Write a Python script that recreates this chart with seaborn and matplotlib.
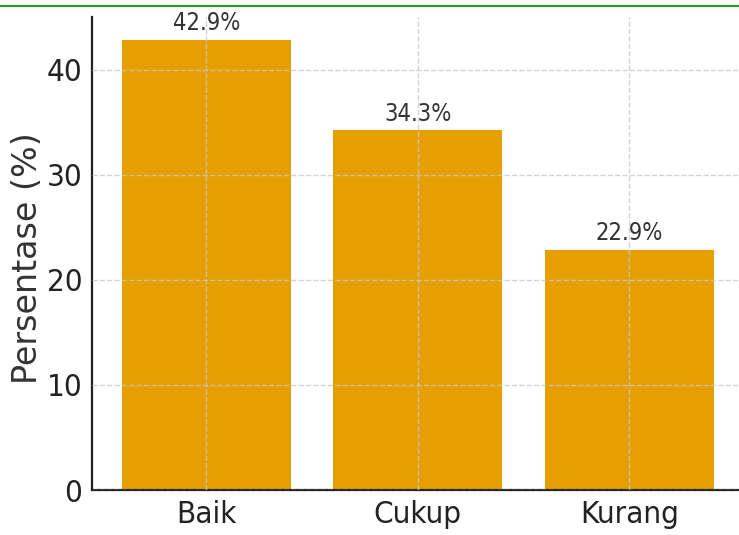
import matplotlib
matplotlib.use("Agg")
import matplotlib.pyplot as plt
from matplotlib.lines import Line2D
import seaborn as sns
import pandas as pd

categories = ["Baik", "Cukup", "Kurang"]
percentages = [42.9, 34.3, 22.9]

data = pd.DataFrame({"kategori": categories, "persen": percentages})

sns.set_style("white")
plt.rcParams["font.family"] = ["DejaVu Sans"]
plt.rcParams["font.stretch"] = "condensed"

fig = plt.figure(figsize=(7.39, 5.35), dpi=100)
ax = fig.add_axes([92 / 739, 45 / 535, 651.5 / 739, 473 / 535])

sns.barplot(data=data, x="kategori", y="persen", color="#E69F00",
            saturation=1, width=0.8, linewidth=0, ax=ax)
ax.set_xlim(-0.54, 2.54)
ax.set_ylim(0, 42.9 * 1.05)

for c in ax.containers:
    ax.bar_label(c, fmt="%.1f%%", padding=3, fontsize=17, color="#333333")

ax.grid(True, linestyle="--", color="#c8c8c8", linewidth=1, alpha=0.8)
ax.set_axisbelow(False)

ax.set_xlabel("")
ax.set_ylabel("Persentase (%)", fontsize=24, color="#333333",
              fontstretch="normal")
ax.yaxis.set_label_coords(-0.073, 0.49)
ax.tick_params(axis="both", direction="in", length=6, width=1,
               labelsize=22.5, colors="#222222", pad=7)

sns.despine(ax=ax)
for s in ["left", "bottom"]:
    ax.spines[s].set_linewidth(1.6)
    ax.spines[s].set_color("#222222")

fig.add_artist(Line2D([0, 1], [1 - 6 / 535, 1 - 6 / 535], transform=fig.transFigure,
                      color="#1f9e1f", linewidth=1.5))

fig.savefig("out.png", dpi=100)
plt.close()
